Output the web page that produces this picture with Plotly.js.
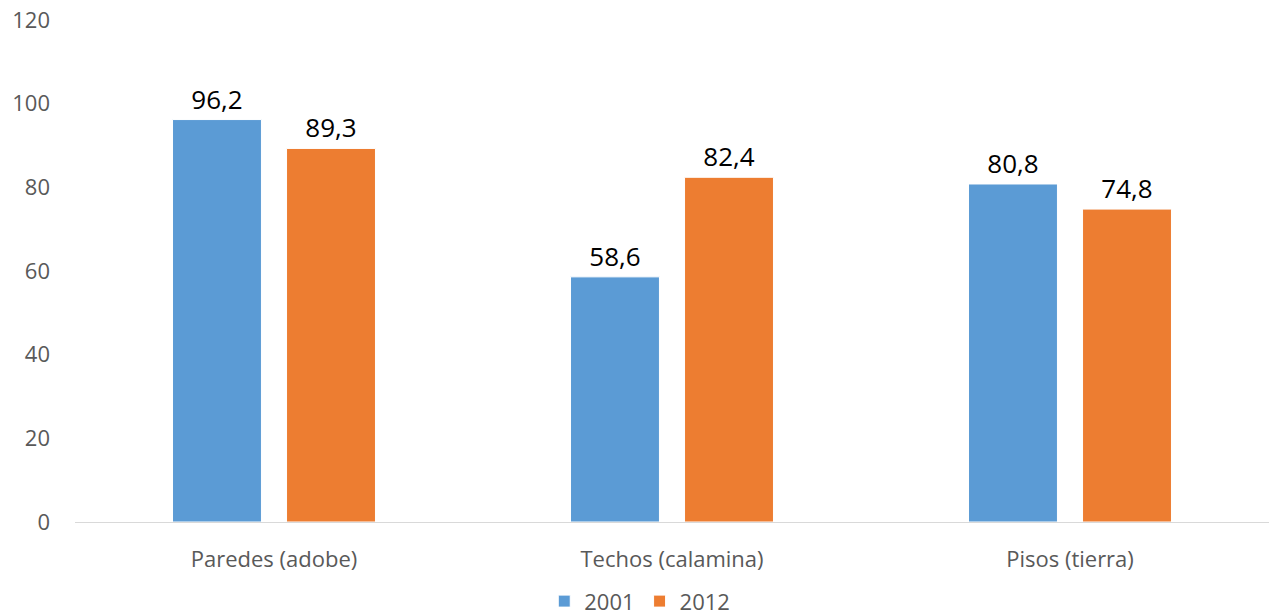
<!DOCTYPE html>
<html>
<head>
<meta charset="utf-8">
<script src="https://cdn.plot.ly/plotly-3.0.1.min.js"></script>
<style>html,body{margin:0;padding:0;background:#fff;}#chart{width:1271px;height:615px;}</style>
</head>
<body>
<div id="chart"></div>
<script>
const categories = ["Paredes (adobe)", "Techos (calamina)", "Pisos (tierra)"];
const seriesNames = ["2001", "2012"];
const values2001 = [96.2, 58.6, 80.8];
const values2012 = [89.3, 82.4, 74.8];
const colors = ["#5B9BD5", "#ED7D31"];
const yTicks = [0, 20, 40, 60, 80, 100, 120];

const font = "'Open Sans', 'Liberation Sans', sans-serif";
function mk(name, vals, color) {
  return {
    type: "bar", name: name, x: categories, y: vals,
    marker: {color: color, line: {color: "#ffffff", width: 1}},
    texttemplate: "%{y:.1f}", textposition: "outside",
    textfont: {family: font, size: 26, color: "#000000"},
    cliponaxis: false, hoverinfo: "skip"
  };
}
const data = [mk(seriesNames[0], values2001, colors[0]), mk(seriesNames[1], values2012, colors[1])];
const layout = {
  width: 1271, height: 615,
  margin: {l: 75, r: 2, t: 20, b: 93, autoexpand: false},
  separators: ",.",
  barmode: "group", bargap: 0.427, bargroupgap: 0.22,
  paper_bgcolor: "#fff", plot_bgcolor: "#fff",
  font: {family: font, size: 22, color: "#595959"},
  xaxis: {showline: true, linecolor: "#D9D9D9", linewidth: 1, ticks: "", showgrid: false,
          tickfont: {size: 22, color: "#595959"}, ticklabelstandoff: 18, automargin: false},
  yaxis: {range: [0, 120], tickvals: yTicks, showgrid: false, zeroline: false, showline: false,
          ticks: "", tickfont: {size: 22, color: "#595959"}, ticklabelstandoff: 24, automargin: false},
  showlegend: true,
  legend: {orientation: "h", x: 0.473, xanchor: "center", y: -0.158, yanchor: "middle",
           font: {size: 22, color: "#595959"}, itemwidth: 30, traceorder: "normal"}
};
Plotly.newPlot("chart", data, layout, {displayModeBar: false, staticPlot: true});
</script>
</body>
</html>
